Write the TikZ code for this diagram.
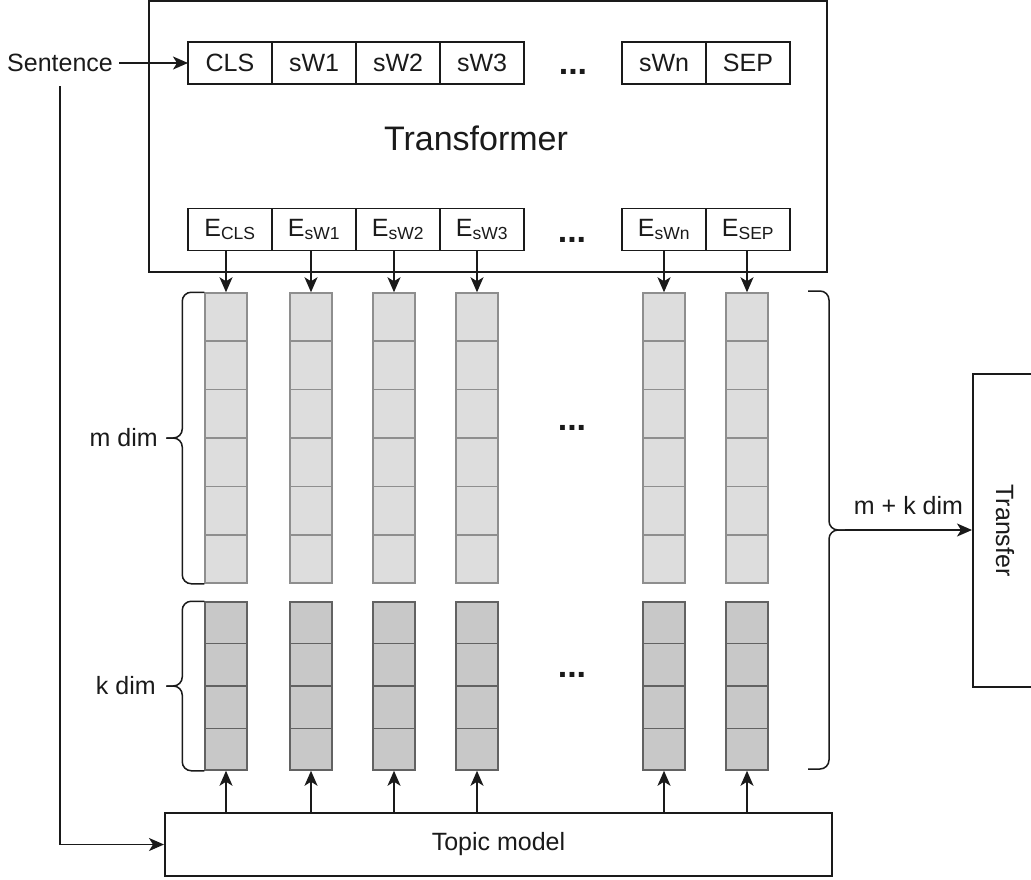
\documentclass[tikz,border=0pt]{standalone}
\usepackage{fontspec}
\setmainfont{Liberation Sans}
\usetikzlibrary{arrows.meta,positioning,calc}
\definecolor{ink}{HTML}{1A1A1A}
\definecolor{mfill}{HTML}{DDDDDD}
\definecolor{mline}{HTML}{8E8E8E}
\definecolor{kfill}{HTML}{C8C8C8}
\definecolor{kline}{HTML}{626262}
\tikzset{
  >={Stealth[length=15pt,width=13pt,inset=4pt]},
  every node/.style={font=\fontsize{25}{30}\selectfont,text=ink},
  tok/.style={draw=ink,line width=1.5pt,minimum width=84pt,minimum height=42pt,inner sep=0pt,outer sep=0pt},
  bigbox/.style={draw=ink,line width=2pt,inner sep=0pt},
  mcol/.style={draw=mline,fill=mfill,line width=1.5pt,minimum width=42pt,minimum height=290pt,inner sep=0pt},
  kcol/.style={mcol,draw=kline,fill=kfill,minimum height=168pt},
  cell/.style={line width=1.6pt},
  dots/.style={font=\fontsize{34}{40}\selectfont\bfseries},
  arrow/.style={->,line width=1.6pt,draw=ink},
  brace/.style={line width=1.5pt,draw=ink,rounded corners=9pt},
}

\begin{document}
\begin{tikzpicture}[x=1pt,y=-1pt]
\useasboundingbox (0,0) rectangle (1031,879);
\fill[white] (0,0) rectangle (1031,879);
\clip (0,0) rectangle (1031,879);

% transformer block
\node[bigbox,minimum width=678pt,minimum height=271pt] (trans) at (488,136.5) {};
\node[font=\fontsize{34}{40}\selectfont] (ttl) at (476,138) {Transformer};

% input tokens
\node[tok] (cls) at (230,63) {CLS};
\node[tok,right=0pt of cls] (sw1) {sW1};
\node[tok,right=0pt of sw1] (sw2) {sW2};
\node[tok,right=0pt of sw2] (sw3) {sW3};
\node[dots] (dt1) at (573,72) {...};
\node[tok] (swn) at (664,63) {sWn};
\node[tok,right=0pt of swn] (sep) {SEP};

% output embeddings
\node[tok] (ecls) at (230,229.5) {E\textsubscript{CLS}};
\node[tok,right=0pt of ecls] (esw1) {E\textsubscript{sW1}};
\node[tok,right=0pt of esw1] (esw2) {E\textsubscript{sW2}};
\node[tok,right=0pt of esw2] (esw3) {E\textsubscript{sW3}};
\node[dots] (dt2) at (572,240) {...};
\node[tok] (eswn) at (664,229.5) {E\textsubscript{sWn}};
\node[tok,right=0pt of eswn] (esep) {E\textsubscript{SEP}};

% sentence input
\node (sent) at (60,63) {Sentence};
\draw[arrow,shorten <=3pt] (sent.east) -- (cls.west);

% m + k vectors
\foreach \i/\x in {1/226,2/311,3/394,4/477,5/664,6/747}{
  \node[mcol] (m\i) at (\x,438) {};
  \node[kcol] (k\i) at (\x,686) {};
  \foreach \j in {1,...,5}
    \draw[cell,draw=mline] ($(m\i.north west)!\j/6!(m\i.south west)$) -- ($(m\i.north east)!\j/6!(m\i.south east)$);
  \foreach \j in {1,2,3}
    \draw[cell,draw=kline] ($(k\i.north west)!\j/4!(k\i.south west)$) -- ($(k\i.north east)!\j/4!(k\i.south east)$);
}
\node[dots] (dt3) at (572,428) {...};
\node[dots] (dt4) at (572,675) {...};

% topic model
\node[bigbox,minimum width=667pt,minimum height=63pt] (tm) at (498.5,844.5) {Topic model};
\draw[arrow,shorten <=11pt] (sent.south) -- (sent.south |- tm.west) -- (tm.west);

% embeddings -> vectors, topic model -> vectors
\foreach \e/\i in {ecls/1,esw1/2,esw2/3,esw3/4,eswn/5,esep/6}
  \draw[arrow] (\e.south -| m\i.north) -- (m\i.north);
\foreach \i in {1,...,6}
  \draw[arrow] (tm.north -| k\i.south) -- (k\i.south);

% left braces
\coordinate (mtip) at ($(m1.west)+(-38,0)$);
\draw[brace] (m1.north west) -- ++(-22,0) -- ($(m1.west)+(-22,0)$) -- (mtip);
\draw[brace] (m1.south west) -- ++(-22,0) -- ($(m1.west)+(-22,0)$) -- (mtip);
\node[left=5pt of mtip] (mdim) {m dim};
\coordinate (ktip) at ($(k1.west)+(-38,0)$);
\draw[brace] (k1.north west) -- ++(-22,0) -- ($(k1.west)+(-22,0)$) -- (ktip);
\draw[brace] (k1.south west) -- ++(-22,0) -- ($(k1.west)+(-22,0)$) -- (ktip);
\node[left=7pt of ktip] (kdim) {k dim};

% right brace and transfer
\node[bigbox,minimum width=64pt,minimum height=313pt] (tf) at (1005,530.5) {\rotatebox{-90}{Transfer}};
\coordinate (rtip) at (845,530);
\draw[brace] (808,291) -- (829,291) -- (829,530) -- (rtip);
\draw[brace] (808,769) -- (829,769) -- (829,530) -- (rtip);
\draw[arrow] (rtip) -- node[above=11pt] (mk) {m + k dim} (rtip -| tf.west);

\end{tikzpicture}
\end{document}
